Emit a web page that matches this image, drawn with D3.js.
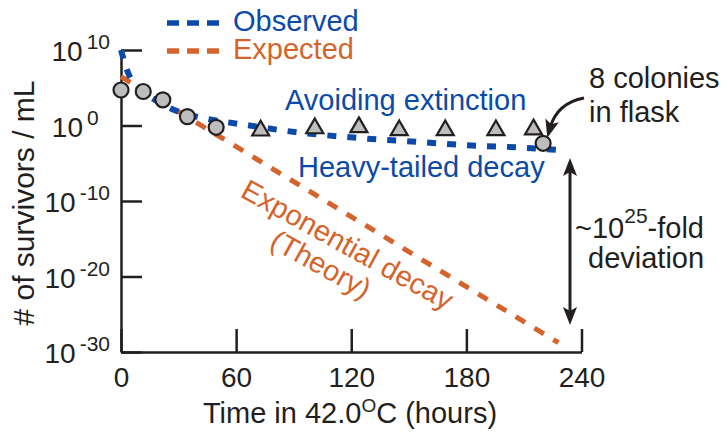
<!DOCTYPE html>
<html>
<head>
<meta charset="utf-8">
<script src="https://cdn.jsdelivr.net/npm/d3@7"></script>
<style>
  body { margin: 0; background: #fff; }
  svg { display: block; font-family: "Liberation Sans", Arial, Helvetica, sans-serif; }
</style>
</head>
<body>
<svg id="chart" width="723" height="434"></svg>
<script>
// tick values
const xTicks = [0, 60, 120, 180, 240];
const yTickExps = [10, 0, -10, -20, -30];

// observed (heavy-tailed) curve: hours vs survivors/mL
const observedTime  = [0, 3.8, 9.4, 17.7, 25.5, 45.3, 55, 65, 85.5, 126, 156, 185, 206, 229];
const observedValue = [1e10, 8e6, 1e5, 2.5e3, 200, 7.2, 2.8, 1.2, 0.2, 0.02, 6.3e-3, 2.1e-3, 1.3e-3, 5.4e-4];

// expected exponential decay (theory)
const expectedTime  = [0, 228];
const expectedValue = [3e6, 1.7e-29];

// measured points: circles and triangles
const countTime  = [0, 11.6, 21.8, 34.6, 49.6, 220];
const countValue = [5e4, 3.2e4, 2.5e3, 15, 0.58, 4.4e-3];
const survTime   = [72.8, 101, 124, 145, 169, 195.4, 215];
const survValue  = [0.21, 0.42, 0.6, 0.23, 0.23, 0.23, 0.3];

const legendLabels = ["Observed", "Expected"];

const blue = "#0b4aa8";
const orange = "#d4642c";
const ink = "#231f20";

const svg = d3.select("#chart");

const x = d3.scaleLinear().domain([0, 240]).range([121, 581.5]);
const y = d3.scaleLog().domain([1e-30, 1e10]).range([352, 50]);

// arrowhead marker
const defs = svg.append("defs");
defs.append("marker")
    .attr("id", "head")
    .attr("viewBox", "0 -8 18 16")
    .attr("refX", 8).attr("refY", 0)
    .attr("markerWidth", 18).attr("markerHeight", 16)
    .attr("markerUnits", "userSpaceOnUse")
    .attr("orient", "auto-start-reverse")
  .append("path")
    .attr("d", "M0,-7 L18,0 L0,7 L4,0 Z")
    .attr("fill", ink);

// axes
const yAxis = svg.append("g")
    .attr("transform", `translate(${x(0)},0)`)
    .call(d3.axisLeft(y).tickValues(yTickExps.map(e => Math.pow(10, e)))
        .tickSizeInner(-21).tickSizeOuter(0).tickFormat(""));
yAxis.selectAll("path, line").attr("stroke", ink).attr("stroke-width", 2.5);

const xAxis = svg.append("g")
    .attr("transform", `translate(0,${y(1e-30)})`)
    .call(d3.axisBottom(x).tickValues(xTicks)
        .tickSizeInner(-23).tickSizeOuter(0).tickPadding(15));
xAxis.selectAll("path, line").attr("stroke", ink).attr("stroke-width", 2.5);
xAxis.selectAll("text").attr("font-size", 28).attr("fill", ink)
    .attr("font-family", "Liberation Sans, Arial, sans-serif");

// y tick labels: 10 with superscript exponent, right aligned like the original
yTickExps.forEach(e => {
    const ty = y(Math.pow(10, e));
    const sup = svg.append("text")
        .attr("y", ty - 1)
        .attr("font-size", 21).attr("fill", ink)
        .text(String(e));
    const w = Math.max(sup.node().getComputedTextLength(), 23);
    const supX = 110 - w;
    sup.attr("x", supX);
    svg.append("text")
        .attr("x", supX - 4).attr("y", ty + 11)
        .attr("text-anchor", "end")
        .attr("font-size", 28).attr("fill", ink)
        .text("10");
});

// axis titles
svg.append("text")
    .attr("transform", "translate(34,203) rotate(-90)")
    .attr("text-anchor", "middle")
    .attr("font-size", 30).attr("fill", ink)
    .text("# of survivors / mL");

const xt = svg.append("text")
    .attr("x", 350).attr("y", 423)
    .attr("text-anchor", "middle")
    .attr("font-size", 29).attr("fill", ink);
xt.append("tspan").text("Time in 42.0");
xt.append("tspan").attr("font-size", 19).attr("dy", -11).text("O");
xt.append("tspan").attr("dy", 11).text("C (hours)");

// lines
const line = d3.line().x(d => x(d[0])).y(d => y(d[1]));

svg.append("path")
    .datum(d3.zip(expectedTime, expectedValue))
    .attr("d", line)
    .attr("fill", "none")
    .attr("stroke", orange)
    .attr("stroke-width", 5)
    .attr("stroke-dasharray", "11,11");

svg.append("path")
    .datum(d3.zip(observedTime, observedValue))
    .attr("d", line.curve(d3.curveMonotoneX))
    .attr("fill", "none")
    .attr("stroke", blue)
    .attr("stroke-width", 6)
    .attr("stroke-dasharray", "9,11");

// markers
svg.append("g").selectAll("path")
    .data(d3.zip(survTime, survValue))
    .join("path")
    .attr("transform", d => `translate(${x(d[0])},${y(d[1])})`)
    .attr("d", d3.symbol(d3.symbolTriangle, 125))
    .attr("fill", "#bdbdbd")
    .attr("stroke", ink)
    .attr("stroke-width", 2.2);

svg.append("g").selectAll("circle")
    .data(d3.zip(countTime, countValue))
    .join("circle")
    .attr("cx", d => x(d[0]))
    .attr("cy", d => y(d[1]))
    .attr("r", 7.5)
    .attr("fill", "#bdbdbd")
    .attr("stroke", ink)
    .attr("stroke-width", 2.2);

// legend
const legend = svg.append("g");
legendLabels.forEach((lab, i) => {
    const c = i === 0 ? blue : orange;
    const ly = 23 + i * 28;
    legend.append("line")
        .attr("x1", 167).attr("x2", 219)
        .attr("y1", ly).attr("y2", ly)
        .attr("stroke", c).attr("stroke-width", 5.5)
        .attr("stroke-dasharray", "12,8");
    legend.append("text")
        .attr("x", 233).attr("y", ly + 8)
        .attr("font-size", 29).attr("fill", c)
        .text(lab);
});

// annotations
svg.append("text")
    .attr("x", 285).attr("y", 110)
    .attr("font-size", 29).attr("fill", blue)
    .text("Avoiding extinction");

svg.append("text")
    .attr("x", 298).attr("y", 177)
    .attr("font-size", 29).attr("fill", blue)
    .text("Heavy-tailed decay");

const expLabel = svg.append("g")
    .attr("transform", "translate(239,196) rotate(29)")
    .attr("font-size", 29).attr("fill", orange);
expLabel.append("text").attr("x", 0).attr("y", 0).text("Exponential decay");
expLabel.append("text").attr("x", 50).attr("y", 30).text("(Theory)");

svg.append("text")
    .attr("font-size", 29).attr("fill", ink)
    .selectAll("tspan")
    .data(["8 colonies", "in flask"])
    .join("tspan")
    .attr("x", 589)
    .attr("y", (d, i) => 88 + i * 33.5)
    .text(d => d);

svg.append("path")
    .attr("d", "M584,98 Q557,103 550,128")
    .attr("fill", "none")
    .attr("stroke", ink)
    .attr("stroke-width", 3)
    .attr("marker-end", "url(#head)");

// ~10^25-fold deviation arrow
const devX = 570;
svg.append("line")
    .attr("x1", devX).attr("x2", devX)
    .attr("y1", 168).attr("y2", 315)
    .attr("stroke", ink)
    .attr("stroke-width", 3)
    .attr("marker-start", "url(#head)")
    .attr("marker-end", "url(#head)");

const dev = svg.append("text")
    .attr("x", 575).attr("y", 238)
    .attr("font-size", 29).attr("fill", ink);
dev.append("tspan").text("~10");
dev.append("tspan").attr("font-size", 21).attr("dy", -15).text("25");
dev.append("tspan").attr("dy", 15).text("-fold");
svg.append("text")
    .attr("x", 588).attr("y", 268)
    .attr("font-size", 29).attr("fill", ink)
    .text("deviation");
</script>
</body>
</html>
